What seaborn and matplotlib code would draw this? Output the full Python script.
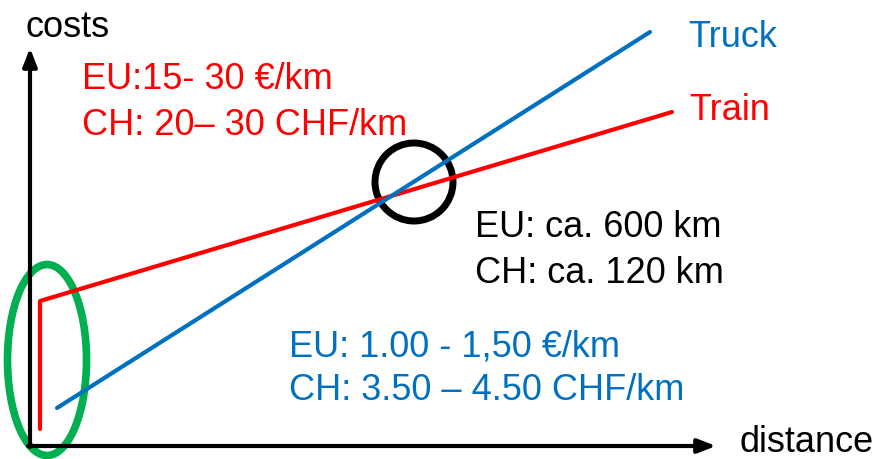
import matplotlib
matplotlib.use("Agg")
import matplotlib.pyplot as plt
import seaborn as sns
import pandas as pd
from matplotlib.patches import Ellipse

# Conceptual data (abstract units: distance, costs)
train_distance = [1.0, 1.0, 64.2]
train_cost = [1.7, 14.5, 33.4]
truck_distance = [2.7, 62.0]
truck_cost = [3.8, 41.4]

train_label = "Train"
truck_label = "Truck"
train_text = ["EU:15- 30 €/km", "CH: 20– 30 CHF/km"]
truck_text = ["EU: 1.00 - 1,50 €/km", "CH: 3.50 – 4.50 CHF/km"]
breakeven_text = ["EU: ca. 600 km", "CH: ca. 120 km"]
x_label = "distance"
y_label = "costs"

RED = "#FF0000"
BLUE = "#0070C0"
GREEN = "#00B050"

sns.set_theme(style="white")
plt.rcParams['font.family'] = ['Liberation Sans', 'DejaVu Sans']

fig = plt.figure(figsize=(8.79, 4.60), dpi=100)
ax = fig.add_axes([0, 0, 1, 1])
ax.set_xlim(-3.0, 84.9)
ax.set_ylim(-1.3, 44.7)
ax.axis("off")

train_df = pd.DataFrame({"distance": train_distance, "cost": train_cost})
truck_df = pd.DataFrame({"distance": truck_distance, "cost": truck_cost})
sns.lineplot(data=train_df, x="distance", y="cost", sort=False, estimator=None,
             color=RED, lw=3, ax=ax)
sns.lineplot(data=truck_df, x="distance", y="cost", sort=False, estimator=None,
             color=BLUE, lw=3, ax=ax)

# axes arrows
arrow = dict(arrowstyle="-|>,head_length=0.9,head_width=0.35", color="black", lw=3,
             shrinkA=0, shrinkB=0)
ax.annotate("", xy=(0, 39.8), xytext=(0, -0.1), arrowprops=arrow)
ax.annotate("", xy=(68.6, 0), xytext=(-0.2, 0), arrowprops=arrow)

fs = 26
kw = dict(fontsize=fs, ha="left", va="baseline")
ax.text(-0.4, 41.0, y_label, color="black", **kw)
ax.text(71.0, -0.55, x_label, color="black", **kw)
ax.text(65.8, 40.0, truck_label, color=BLUE, **kw)
ax.text(65.9, 32.7, train_label, color=RED, **kw)

ax.text(5.2, 35.8, train_text[0], color=RED, **kw)
ax.text(5.2, 31.2, train_text[1], color=RED, **kw)
ax.text(44.5, 21.0, breakeven_text[0], color="black", **kw)
ax.text(44.5, 16.4, breakeven_text[1], color="black", **kw)
ax.text(25.9, 9.0, truck_text[0], color=BLUE, **kw)
ax.text(25.9, 4.7, truck_text[1], color=BLUE, **kw)

ax.add_patch(Ellipse((38.4, 26.4), 7.8, 7.8, fill=False, ec="black", lw=5))
ax.add_patch(Ellipse((1.7, 8.6), 7.9, 19.1, fill=False, ec=GREEN, lw=5.5))

fig.savefig("out.png", dpi=100)
